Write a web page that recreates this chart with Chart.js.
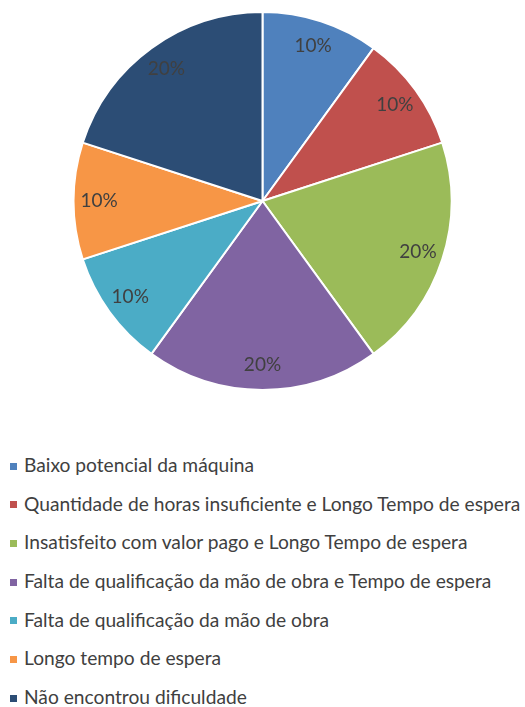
<!DOCTYPE html>
<html lang="pt">
<head>
    <meta charset="UTF-8">
    <title>Dificuldades</title>
    <script src="https://cdn.jsdelivr.net/npm/chart.js"></script>
    <style>
        body, html {
            margin: 0;
            padding: 0;
            width: 525px;
            height: 707px;
            overflow: hidden;
            background: #fff;
            font-family: Lato, sans-serif;
        }
        #wrap {
            position: relative;
            width: 525px;
            height: 402px;
        }
        #legend {
            list-style: none;
            margin: 44px 0 0 0;
            padding: 0 0 0 10px;
        }
        #legend li {
            height: 38.7px;
            line-height: 38.7px;
            font-size: 19.2px;
            color: #404040;
            white-space: nowrap;
        }
        #legend span.box {
            display: inline-block;
            width: 7px;
            height: 7px;
            margin-right: 7px;
            vertical-align: middle;
            position: relative;
            top: -1px;
        }
    </style>
</head>
<body>
    <div id="wrap"><canvas id="pieChart"></canvas></div>
    <ul id="legend"></ul>

    <script>
        const labels = [
            "Baixo potencial da máquina",
            "Quantidade de horas insuficiente e Longo Tempo de espera",
            "Insatisfeito com valor pago e Longo Tempo de espera",
            "Falta de qualificação da mão de obra e Tempo de espera",
            "Falta de qualificação da mão de obra",
            "Longo tempo de espera",
            "Não encontrou dificuldade"
        ];
        const values = [10, 10, 20, 20, 10, 10, 20];
        const colors = ["#4F81BD", "#C0504D", "#9BBB59", "#8064A2", "#4BACC6", "#F79646", "#2C4D75"];

        // draws the percentage inside each slice, near the outer edge
        const sliceLabels = {
            id: 'sliceLabels',
            afterDatasetsDraw(chart) {
                const ctx = chart.ctx;
                const total = values.reduce((a, b) => a + b, 0);
                ctx.save();
                ctx.font = '19px Lato, sans-serif';
                ctx.fillStyle = '#404040';
                ctx.textAlign = 'center';
                ctx.textBaseline = 'middle';
                chart.getDatasetMeta(0).data.forEach((arc, i) => {
                    const mid = (arc.startAngle + arc.endAngle) / 2;
                    const r = arc.outerRadius * 0.865;
                    const x = arc.x + Math.cos(mid) * r;
                    const y = arc.y + Math.sin(mid) * r;
                    ctx.fillText(Math.round(values[i] / total * 100) + '%', x, y);
                });
                ctx.restore();
            }
        };

        const ctx = document.getElementById('pieChart').getContext('2d');
        new Chart(ctx, {
            type: 'pie',
            data: {
                labels: labels,
                datasets: [{
                    data: values,
                    backgroundColor: colors,
                    borderColor: '#ffffff',
                    borderWidth: 2
                }]
            },
            options: {
                responsive: true,
                maintainAspectRatio: false,
                animation: false,
                layout: { padding: { top: 11, bottom: 11 } },
                plugins: {
                    legend: { display: false },
                    tooltip: { enabled: false }
                }
            },
            plugins: [sliceLabels]
        });

        const legend = document.getElementById('legend');
        labels.forEach((lab, i) => {
            const li = document.createElement('li');
            const box = document.createElement('span');
            box.className = 'box';
            box.style.background = colors[i];
            li.appendChild(box);
            li.appendChild(document.createTextNode(lab));
            legend.appendChild(li);
        });
    </script>
</body>
</html>
